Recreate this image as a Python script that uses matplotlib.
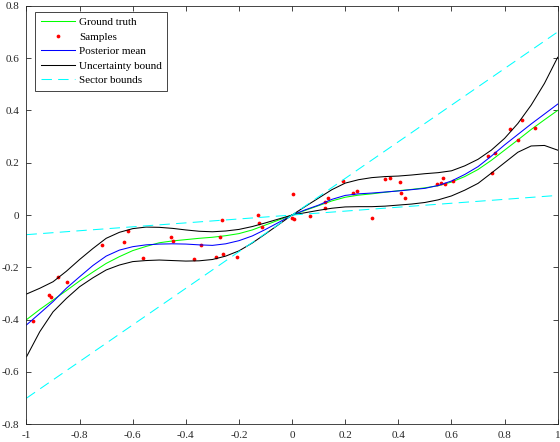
import matplotlib
matplotlib.use('Agg')
import matplotlib.pyplot as plt

# x grid the curves were read at (step 0.05)
xGrid = [-1.00, -0.95, -0.90, -0.85, -0.80, -0.75, -0.70, -0.65, -0.60, -0.55, -0.50,
         -0.45, -0.40, -0.35, -0.30, -0.25, -0.20, -0.15, -0.10, -0.05, 0.00,
         0.05, 0.10, 0.15, 0.20, 0.25, 0.30, 0.35, 0.40, 0.45, 0.50,
         0.55, 0.60, 0.65, 0.70, 0.75, 0.80, 0.85, 0.90, 0.95, 1.00]

groundTruth = [-0.400, -0.361, -0.325, -0.289, -0.252, -0.218, -0.185, -0.159, -0.136, -0.120, -0.106,
               -0.099, -0.094, -0.089, -0.085, -0.079, -0.071, -0.057, -0.038, -0.019, 0.000,
               0.018, 0.036, 0.054, 0.068, 0.076, 0.081, 0.087, 0.093, 0.098, 0.104,
               0.112, 0.126, 0.147, 0.174, 0.209, 0.248, 0.287, 0.327, 0.364, 0.400]
postMean = [-0.420, -0.376, -0.331, -0.280, -0.236, -0.193, -0.157, -0.134, -0.121, -0.114, -0.111,
            -0.110, -0.111, -0.114, -0.116, -0.110, -0.098, -0.080, -0.055, -0.028, 0.000,
            0.020, 0.038, 0.060, 0.075, 0.081, 0.084, 0.088, 0.092, 0.097, 0.102,
            0.113, 0.130, 0.155, 0.185, 0.225, 0.268, 0.308, 0.348, 0.386, 0.424]
upperBound = [-0.302, -0.280, -0.255, -0.215, -0.170, -0.128, -0.089, -0.066, -0.052, -0.046, -0.047,
              -0.051, -0.057, -0.062, -0.064, -0.061, -0.055, -0.044, -0.030, -0.015, 0.000,
              0.033, 0.065, 0.097, 0.122, 0.135, 0.143, 0.147, 0.149, 0.153, 0.158,
              0.162, 0.169, 0.188, 0.213, 0.248, 0.293, 0.350, 0.420, 0.503, 0.603]
lowerBound = [-0.542, -0.446, -0.370, -0.319, -0.274, -0.240, -0.210, -0.191, -0.178, -0.174, -0.172,
              -0.174, -0.176, -0.175, -0.170, -0.157, -0.137, -0.107, -0.072, -0.036, 0.000,
              0.009, 0.018, 0.026, 0.031, 0.032, 0.032, 0.034, 0.038, 0.042, 0.048,
              0.058, 0.073, 0.095, 0.121, 0.160, 0.200, 0.240, 0.264, 0.266, 0.248]

# noisy samples
sampleX = [-0.974, -0.916, -0.906, -0.880, -0.849, -0.714, -0.632, -0.617, -0.563, -0.457,
           -0.449, -0.369, -0.342, -0.285, -0.272, -0.263, -0.259, -0.207, -0.128, -0.124,
           -0.115, 0.004, 0.001, 0.006, 0.067, 0.123, 0.123, 0.136, 0.190, 0.230,
           0.245, 0.302, 0.350, 0.368, 0.408, 0.409, 0.425, 0.545, 0.560, 0.568,
           0.577, 0.604, 0.738, 0.753, 0.765, 0.819, 0.849, 0.866, 0.916]
sampleY = [-0.404, -0.306, -0.315, -0.238, -0.255, -0.113, -0.103, -0.062, -0.163, -0.083,
           -0.099, -0.169, -0.113, -0.159, -0.084, -0.020, -0.148, -0.159, -0.001, -0.032,
           -0.045, 0.081, -0.013, -0.017, -0.003, 0.048, 0.026, 0.066, 0.129, 0.083,
           0.092, -0.013, 0.138, 0.140, 0.127, 0.085, 0.064, 0.120, 0.121, 0.140,
           0.117, 0.131, 0.226, 0.159, 0.236, 0.330, 0.286, 0.364, 0.333]

# sector bounds end points
sectorX = [-1.0, 1.0]
sectorUpper = [-0.7, 0.7]
sectorLower = [-0.075, 0.075]

plt.rcParams['font.family'] = ['Liberation Serif', 'DejaVu Serif']
plt.rcParams['font.size'] = 8
plt.rcParams['axes.unicode_minus'] = False

axColor = '#262626'
lw = 0.75

fig = plt.figure(figsize=(5.6, 4.42), dpi=100)
ax = fig.add_axes([0.0473, 0.040, 0.9486, 0.947])

ax.plot(xGrid, groundTruth, color='#00ff00', lw=lw, label='Ground truth')
ax.plot(sampleX, sampleY, 'o', color='red', ms=2.7, mew=0, label='Samples')
ax.plot(xGrid, postMean, color='blue', lw=lw, label='Posterior mean')
ax.plot(xGrid, upperBound, color='black', lw=lw, label='Uncertainty bound')
ax.plot(xGrid, lowerBound, color='black', lw=lw)
ax.plot(sectorX, sectorUpper, color='cyan', lw=lw, ls=(0, (10, 6)), label='Sector bounds')
ax.plot(sectorX, sectorLower, color='cyan', lw=lw, ls=(0, (10, 6)))

ax.set_xlim(-1, 1)
ax.set_ylim(-0.8, 0.8)
ax.set_xticks([-1, -0.8, -0.6, -0.4, -0.2, 0, 0.2, 0.4, 0.6, 0.8, 1])
ax.set_xticklabels(['-1', '-0.8', '-0.6', '-0.4', '-0.2', '0', '0.2', '0.4', '0.6', '0.8', '1'])
ax.set_yticks([-0.8, -0.6, -0.4, -0.2, 0, 0.2, 0.4, 0.6, 0.8])
ax.set_yticklabels(['-0.8', '-0.6', '-0.4', '-0.2', '0', '0.2', '0.4', '0.6', '0.8'])

ax.tick_params(direction='in', top=True, right=True, length=3.6, width=0.6,
               colors=axColor, pad=5)
for s in ax.spines.values():
    s.set_color(axColor)
    s.set_linewidth(0.6)

leg = ax.legend(loc='upper left', bbox_to_anchor=(0.016, 0.985), borderaxespad=0,
                fancybox=False, framealpha=1, edgecolor=axColor,
                handlelength=3.1, handletextpad=0.35, labelspacing=0.42, borderpad=0.5,
                markerscale=1.0)
leg.get_frame().set_linewidth(0.6)

plt.savefig('out.png', dpi=100)
